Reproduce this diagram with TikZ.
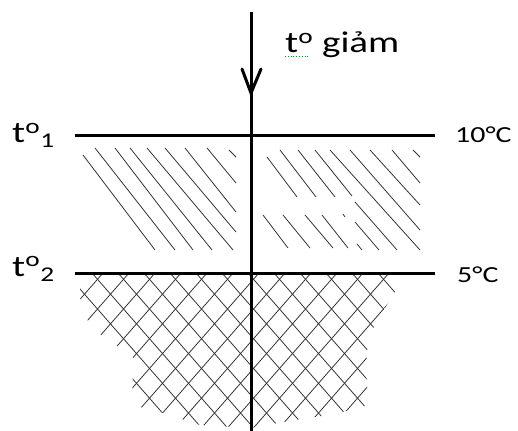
\documentclass[tikz,border=0pt]{standalone}
\usepackage{fontspec}
\setmainfont{Carlito}
\begin{document}
\begin{tikzpicture}[x=1pt,y=-1pt,
  axis/.style={line width=3pt},
  hatch/.style={line width=0.8pt, black!80},
  lbl/.style={inner sep=0pt, anchor=base west},
  bigtxt/.style={font=\fontsize{30}{30}\selectfont},
  smalltxt/.style={font=\fontsize{23}{23}\selectfont}]
\useasboundingbox (0,0) rectangle (518,430);
% axes
\coordinate (vtop) at (251,12);
\coordinate (vbot) at (251,432);
\coordinate (tip) at (251,93);
\coordinate (wl) at (242,69);
\coordinate (wr) at (261,69);
\coordinate (h1l) at (75,136);
\coordinate (h1r) at (435,136);
\coordinate (h2l) at (75,273);
\coordinate (h2r) at (435,273);
% single hatching, upper band
\foreach \a/\b/\c/\d in {83/155/155/250, 95/148/175/250, 115/148/193/250, 130/148/212/250,
  147/148/233/250, 165/148/236/232, 185/148/236/212, 207/148/236/183, 229/150/236/157,
  267/157/297/197, 280/150/316/197, 298/150/335/197, 315/150/352/196,
  330/150/420/250, 350/150/420/230, 370/150/420/205, 392/150/420/183, 413/150/420/157,
  263/215/288/248, 283/215/310/248, 305/215/333/248, 322/215/348/248, 343/214/345/217,
  355/202/397/250, 355/222/379/250, 357/244/362/250}
  \draw[hatch] (\a,\b) -- (\c,\d);
% cross hatching, lower band
\begin{scope}
\clip (80,274) -- (398,274) -- (395,292) -- (376,322) -- (368,340) -- (366,365) -- (368,405)
  -- (335,414) -- (295,420) -- (250,428) -- (200,425) -- (160,412) -- (132,405) -- (133,355)
  -- (115,345) -- (90,327) -- (80,298) -- cycle;
\foreach \x in {-64,-38,...,400} \draw[hatch] (\x,273) -- ++(140,160);
\foreach \x in {77,103,...,560} \draw[hatch] (\x,273) -- ++(-140,160);
\end{scope}
\draw[axis] (vtop) -- (vbot);
\draw[axis, line cap=round] (wl) -- (tip) -- (wr);
\draw[axis] (h1l) -- (h1r);
\draw[axis] (h2l) -- (h2r);
% labels
\node[lbl, bigtxt] (tdec) at (285,53) {\scalebox{1.3}[1]{t\textsuperscript{o} giảm}};
\coordinate (ul) at (285,56);
\coordinate (ur) at (310,56);
\draw[green!60!black, line width=0.8pt, dotted] (ul) -- (ur);
\node[lbl, bigtxt] (t1) at (12,143) {\scalebox{1.3}[1]{t\textsuperscript{o}\textsubscript{1}}};
\node[lbl, bigtxt] (t2) at (12,276) {\scalebox{1.3}[1]{t\textsuperscript{o}\textsubscript{2}}};
\node[lbl, smalltxt] (c10) at (455,143) {\scalebox{1.3}[1]{10°C}};
\node[lbl, smalltxt] (c5) at (457,282) {\scalebox{1.3}[1]{5°C}};
\end{tikzpicture}
\end{document}
